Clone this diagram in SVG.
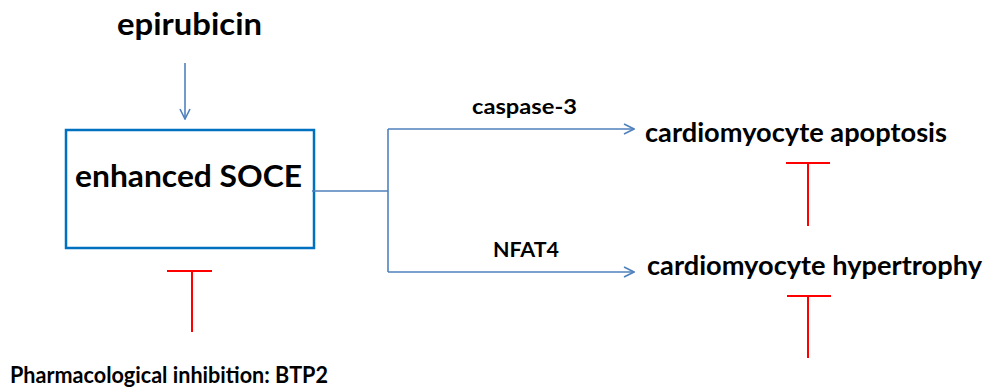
<svg xmlns="http://www.w3.org/2000/svg" width="987" height="389" viewBox="0 0 987 389">
  <defs>
    <style>
      text { font-family: Lato, "Liberation Sans", sans-serif; font-weight: bold; fill: #000; }
      .big { font-size: 30px; }
      .mid { font-size: 26px; }
      .lab { font-size: 21px; }
      .note { font-size: 23px; }
      .act { fill: none; stroke: #4F81BD; stroke-width: 1.6; }
      .inh { fill: none; stroke: #FF0000; stroke-width: 2; }
    </style>
    <marker id="open" viewBox="0 0 12 12" refX="11" refY="6" markerWidth="12" markerHeight="12" markerUnits="userSpaceOnUse" orient="auto">
      <path d="M1,1 L11,6 L1,11" fill="none" stroke="#4F81BD" stroke-width="1.6"/>
    </marker>
  </defs>

  <rect width="987" height="389" fill="#fff"/>

  <g id="epirubicin">
    <text class="big" x="117" y="35" textLength="145" lengthAdjust="spacingAndGlyphs">epirubicin</text>
  </g>

  <g id="soce">
    <rect x="66" y="130" width="248" height="118" fill="none" stroke="#0070C0" stroke-width="2.5"/>
    <text class="big" x="75" y="187" textLength="227" lengthAdjust="spacingAndGlyphs">enhanced SOCE</text>
  </g>

  <g id="apoptosis">
    <text class="mid" x="645" y="142" textLength="302" lengthAdjust="spacingAndGlyphs">cardiomyocyte apoptosis</text>
  </g>

  <g id="hypertrophy">
    <text class="mid" x="647" y="275" textLength="335" lengthAdjust="spacingAndGlyphs">cardiomyocyte hypertrophy</text>
  </g>

  <g id="btp2">
    <text class="note" x="10" y="383" textLength="318" lengthAdjust="spacingAndGlyphs">Pharmacological inhibition: BTP2</text>
  </g>

  <g id="connectors">
    <line class="act" x1="185" y1="63" x2="185" y2="119" marker-end="url(#open)"/>
    <path class="act" d="M312,191 H388"/>
    <path class="act" d="M388,129 V272"/>
    <line class="act" x1="388" y1="129" x2="634" y2="129" marker-end="url(#open)"/>
    <line class="act" x1="388" y1="272" x2="634" y2="272" marker-end="url(#open)"/>
    <text class="lab" x="472" y="114" textLength="105" lengthAdjust="spacingAndGlyphs">caspase-3</text>
    <text class="lab" x="493" y="257" textLength="66" lengthAdjust="spacingAndGlyphs">NFAT4</text>
    <path class="inh" d="M167,271 H212 M192,271 V332"/>
    <path class="inh" d="M786,163 H830 M808,163 V226"/>
    <path class="inh" d="M787,296 H831 M808,296 V358"/>
  </g>
</svg>
